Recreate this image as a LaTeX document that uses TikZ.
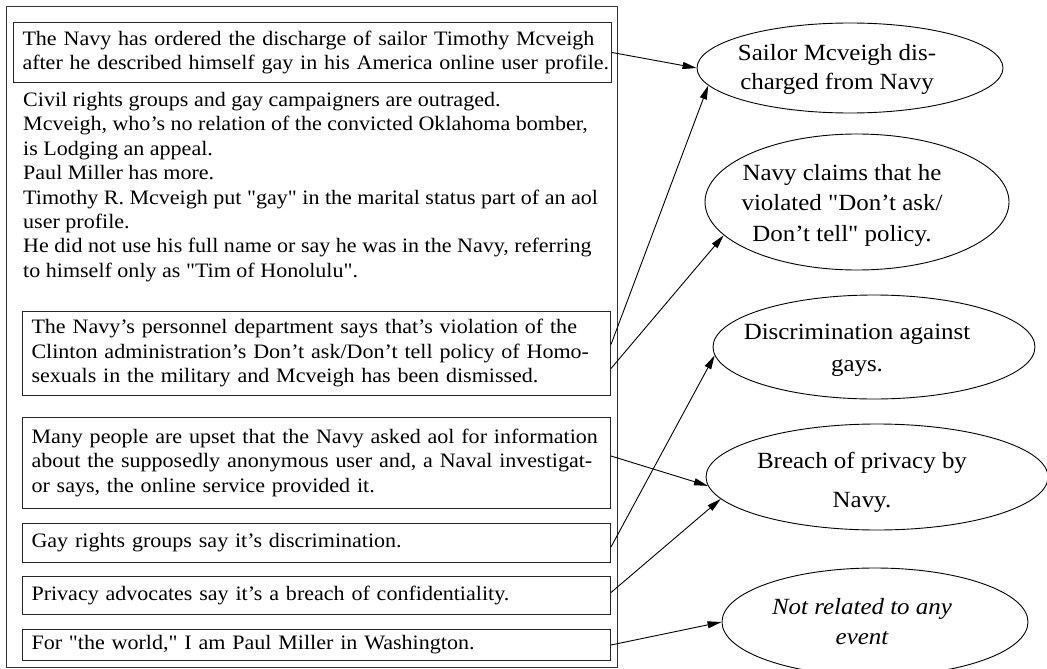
\documentclass[tikz,border=0pt]{standalone}
\usepackage{fontspec}
\setmainfont{Liberation Serif}[FakeStretch=1.075, Ligatures=TeXOff]
\usetikzlibrary{shapes.geometric,arrows.meta}
\newcommand\txtlines[1]{\begin{tabular}{@{}l@{}}#1\end{tabular}}
\begin{document}
\begin{tikzpicture}[x=1pt,y=-1pt,
  frame/.style={draw=black!80, line width=1pt},
  txtbox/.style={draw=black!85, line width=1pt, rectangle, anchor=north west,
    align=left, inner xsep=9pt, inner ysep=0pt,
    font=\fontsize{20.5}{24.5}\selectfont},
  evt/.style={draw, ellipse, line width=0.9pt, inner sep=0pt},
  evtxt/.style={align=center, inner sep=0pt, font=\fontsize{23.2}{29}\selectfont},
  link/.style={line width=0.9pt, -{Triangle[length=14pt,width=7pt]}}]
\useasboundingbox (0,0) rectangle (1047,669);

% outer frame
\node[frame, rectangle, anchor=north west, inner sep=0pt,
  minimum width=611pt, minimum height=661pt] (outer) at (6,6) {};

% boxed sentences
\node[txtbox, text width=580pt, minimum height=60pt] (b1) at (13,22)
  {\txtlines{The Navy has ordered the discharge of sailor Timothy Mcveigh\\
   after he described himself gay in his America online user profile.}};

\node[anchor=north west, inner sep=0pt, align=left,
  font=\fontsize{20.5}{24.4}\selectfont] (free) at (23,92)
  {Civil rights groups and gay campaigners are outraged.\\
   Mcveigh, who’s no relation of the convicted Oklahoma bomber,\\
   is Lodging an appeal.\\
   Paul Miller has more.\\
   Timothy R. Mcveigh put "gay" in the marital status part of an aol\\
   user profile.\\
   He did not use his full name or say he was in the Navy, referring\\
   to himself only as "Tim of Honolulu".};

\node[txtbox, text width=570pt, minimum height=84pt] (b2) at (22,311)
  {\txtlines{The Navy’s personnel department says that’s violation of the\\
   Clinton administration’s Don’t ask/Don’t tell policy of Homo-\\
   sexuals in the military and Mcveigh has been dismissed.}};

\node[txtbox, text width=570pt, minimum height=91pt] (b3) at (22,417)
  {\txtlines{Many people are upset that the Navy asked aol for information\\
   about the supposedly anonymous user and, a Naval investigat-\\
   or says, the online service provided it.}};

\node[txtbox, text width=570pt, minimum height=39pt] (b4) at (22,523)
  {\txtlines{Gay rights groups say it’s discrimination.}};

\node[txtbox, text width=570pt, minimum height=38pt] (b5) at (22,576)
  {\txtlines{Privacy advocates say it’s a breach of confidentiality.}};

\node[txtbox, text width=570pt, minimum height=31pt] (b6) at (22,629)
  {\txtlines{For "the world," I am Paul Miller in Washington.}};

% events
\node[evt, minimum width=306pt, minimum height=90pt,
  label={[evtxt, xshift=-13pt, yshift=-1pt]center:{Sailor Mcveigh dis-\\charged from Navy}}]
  (e1) at (850,68) {};
\node[evt, minimum width=304pt, minimum height=136pt,
  label={[evtxt, font=\fontsize{23.2}{30.5}\selectfont, xshift=-15pt, yshift=-3pt]center:{Navy claims that he\\violated "Don’t ask/\\Don’t tell" policy.}}]
  (e2) at (857,202) {};
\node[evt, minimum width=322pt, minimum height=104pt,
  label={[evtxt, font=\fontsize{23.2}{32}\selectfont, xshift=-17pt, yshift=-3pt]center:{Discrimination against\\gays.}}]
  (e3) at (874,347) {};
\node[evt, minimum width=342pt, minimum height=106pt,
  label={[evtxt, font=\fontsize{23.2}{39}\selectfont, xshift=-15pt, yshift=-5pt]center:{Breach of privacy by\\Navy.}}]
  (e4) at (877,477) {};
\node[evt, minimum width=306pt, minimum height=108pt,
  label={[evtxt, font=\fontsize{23.2}{30}\itshape, xshift=-13pt]center:{Not related to any\\event}}]
  (e5) at (875,622) {};

% connectors
\draw[link] (b1.east) -- (e1.west);
\draw[link] ([yshift=9pt]b2.east) -- (e1.187);
\draw[link] ([yshift=-15pt]b2.east) -- (e2.194);
\draw[link] ([yshift=7pt]b3.east) -- (e4.183);
\draw[link] ([yshift=-4pt]b4.east) -- (e3.183);
\draw[link] ([yshift=3pt]b5.east) -- (e4.188);
\draw[link] (b6.east) -- (e5.west);
\end{tikzpicture}
\end{document}
